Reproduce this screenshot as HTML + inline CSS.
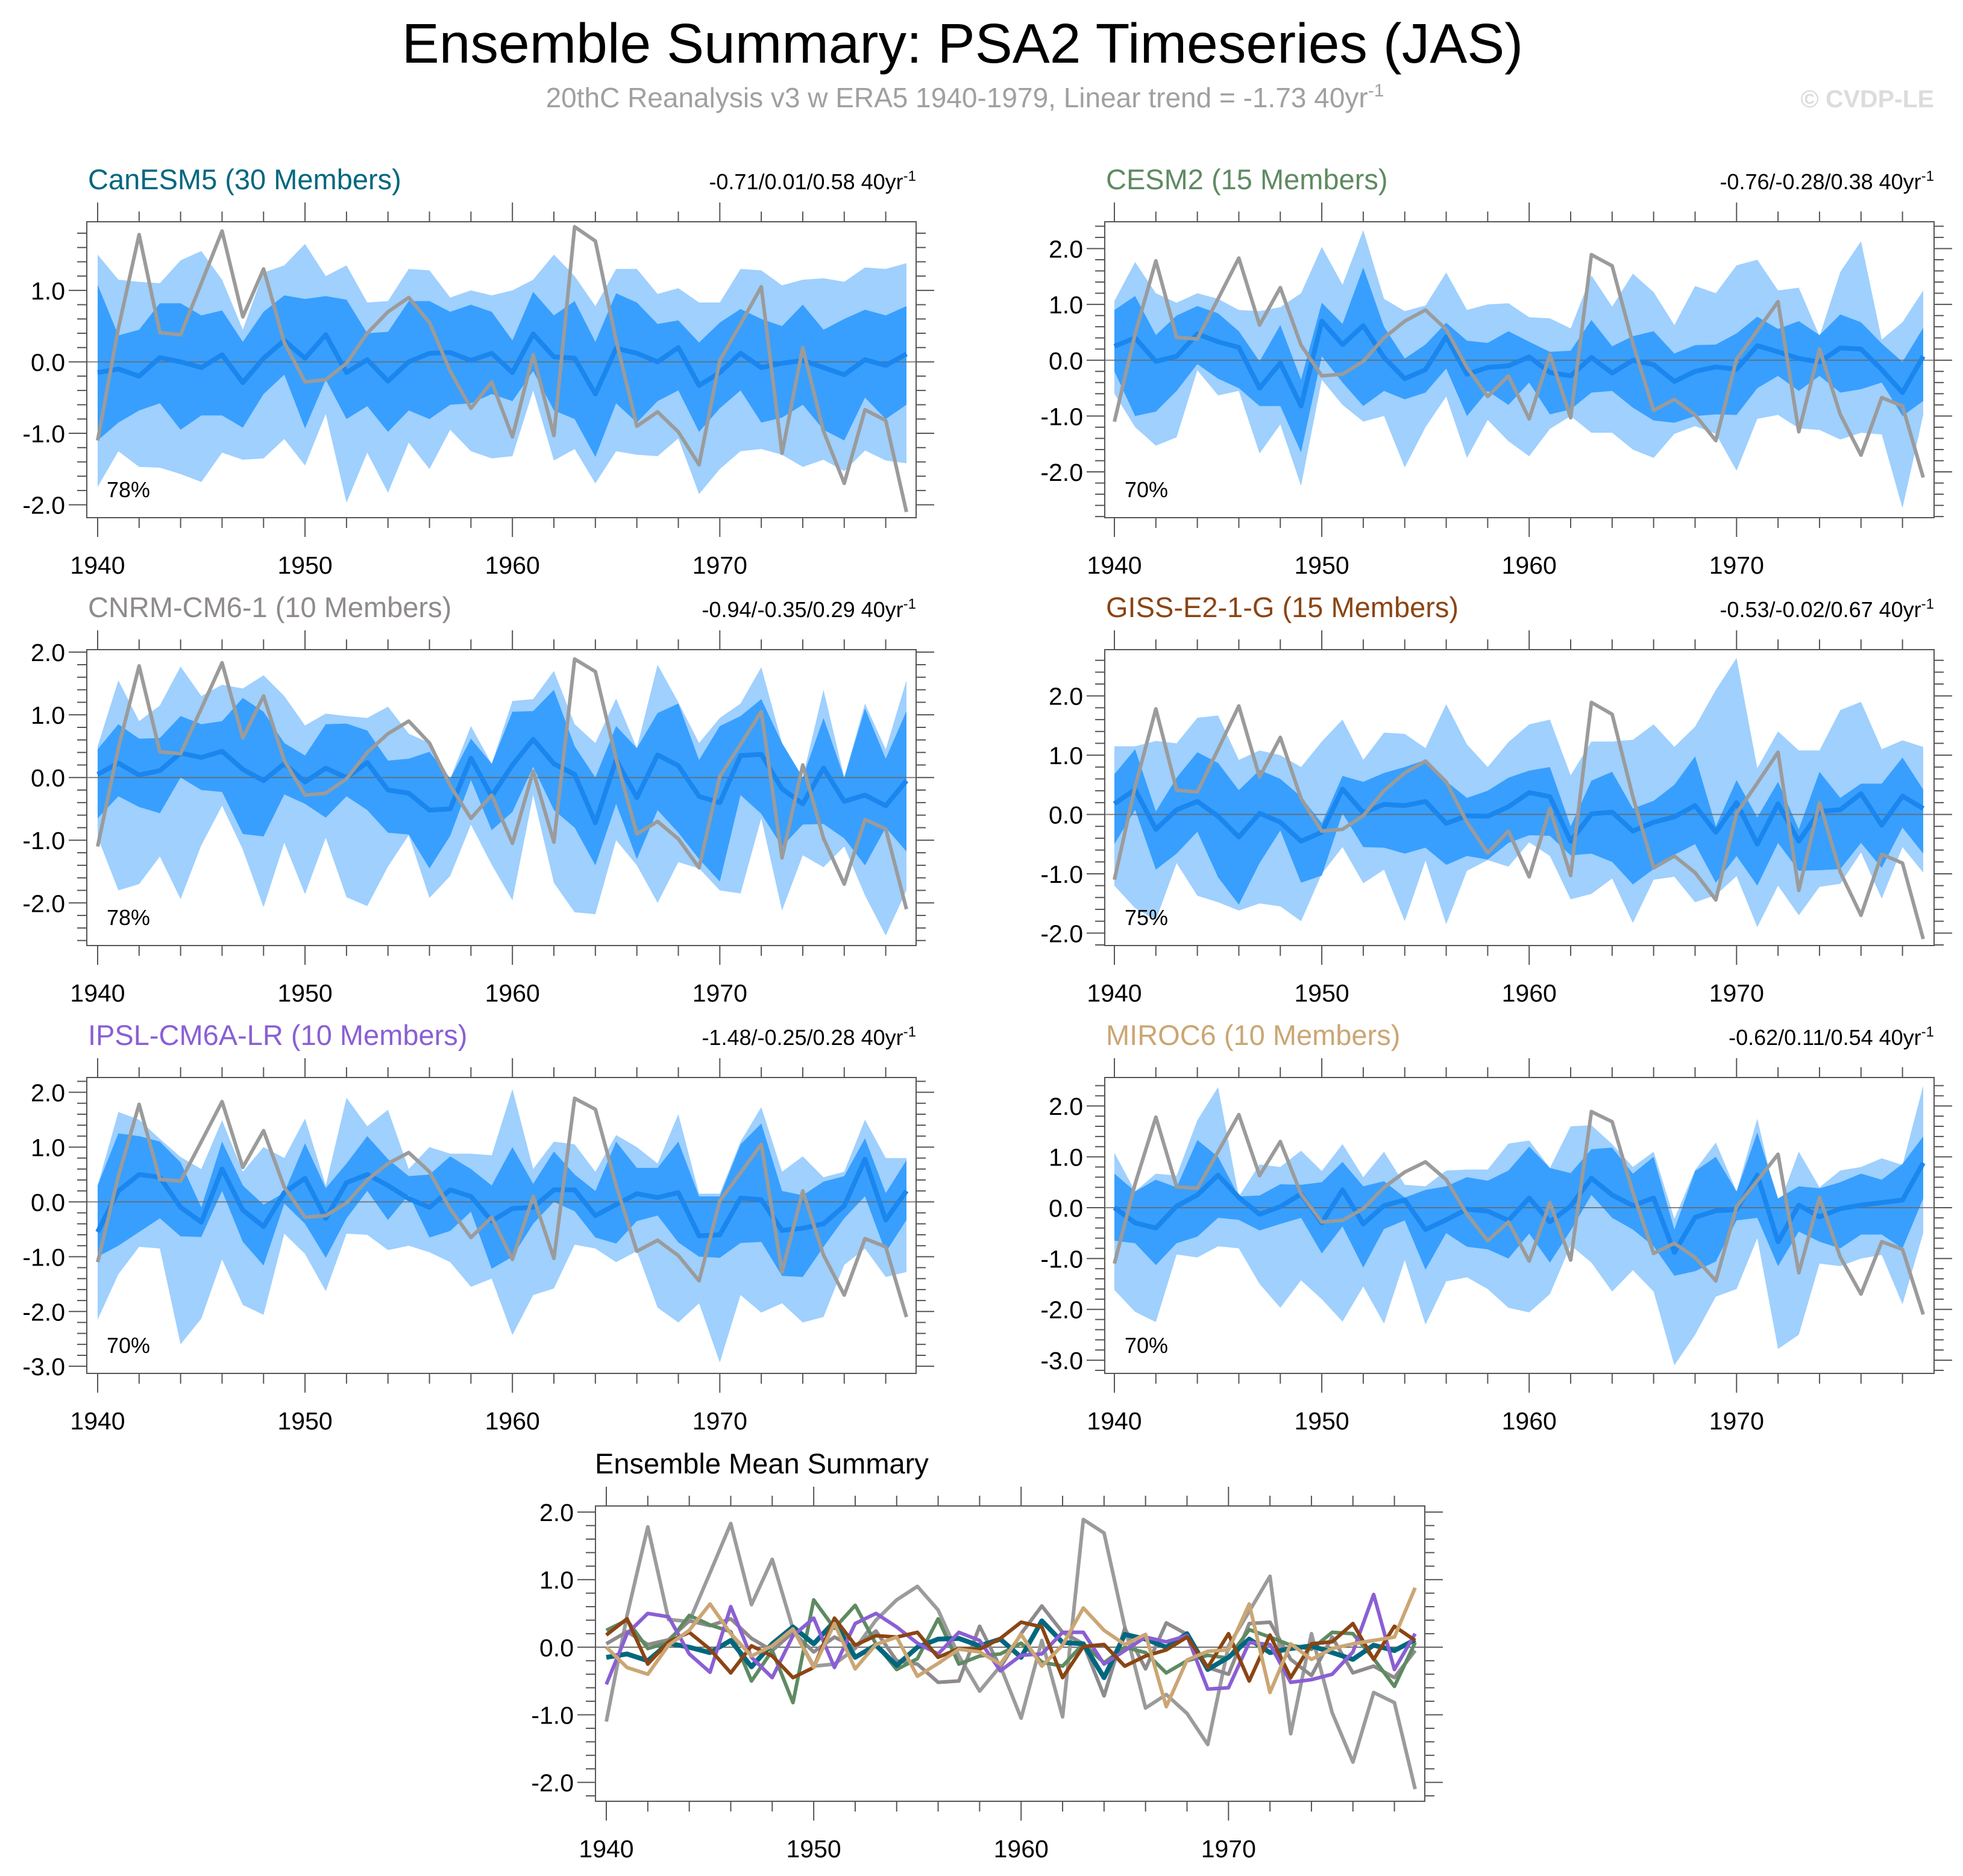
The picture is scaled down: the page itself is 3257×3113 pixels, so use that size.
<!DOCTYPE html>
<html><head><meta charset="utf-8"><style>
html,body{margin:0;padding:0;background:#fff;}
svg{display:block;font-family:"Liberation Sans",Arial,sans-serif;}
</style></head><body>
<svg id="chart" width="3257" height="3113" viewBox="0 0 3257 3113" xmlns="http://www.w3.org/2000/svg">
<text x="1597" y="104" font-size="93" text-anchor="middle" fill="#000">Ensemble Summary: PSA2 Timeseries (JAS)</text>
<text x="1601" y="178" font-size="46" text-anchor="middle" fill="#a0a0a0">20thC Reanalysis v3 w ERA5 1940-1979, Linear trend = -1.73 40yr<tspan font-size="30" dy="-18">-1</tspan></text>
<text x="3209" y="178" font-size="41" font-weight="bold" text-anchor="end" fill="#dcdcdc">© CVDP-LE</text>
<g id="panels"></g>
</svg>
<script>
const years = [];
for (let y = 1940; y <= 1979; y++) years.push(y);
const obs = [-1.10,0.47,1.78,0.41,0.38,1.10,1.83,0.63,1.30,0.27,-0.28,-0.25,-0.02,0.40,0.70,0.90,0.55,-0.13,-0.65,-0.28,-1.05,0.10,-1.03,1.89,1.69,0.30,-0.90,-0.70,-0.98,-1.44,0.02,0.53,1.05,-1.28,0.20,-0.97,-1.70,-0.67,-0.82,-2.10];

const canMean = [-0.15,-0.10,-0.20,0.06,0.00,-0.08,0.10,-0.29,0.05,0.30,0.05,0.38,-0.15,0.03,-0.27,0.00,0.12,0.13,0.02,0.12,-0.15,0.39,0.07,0.05,-0.45,0.19,0.12,0.00,0.20,-0.33,-0.15,0.12,-0.08,-0.02,0.02,-0.08,-0.18,0.03,-0.05,0.11];
const canOU = [1.50,1.15,1.12,1.10,1.42,1.55,1.15,0.45,1.25,1.35,1.65,1.20,1.35,0.83,0.85,1.30,1.28,0.90,1.00,0.93,1.00,1.15,1.50,1.20,0.78,1.30,1.30,0.95,1.03,0.83,0.83,1.30,1.28,1.07,1.15,1.17,1.12,1.32,1.30,1.38];
const canIU = [1.08,0.37,0.45,0.82,0.82,0.65,0.72,0.28,0.70,0.93,0.88,0.92,0.87,0.40,0.42,0.85,0.85,0.70,0.80,0.70,0.30,0.98,0.65,0.85,0.28,0.96,0.83,0.53,0.58,0.27,0.55,0.74,0.60,0.50,0.80,0.45,0.60,0.73,0.65,0.78];
const canIL = [-1.10,-0.85,-0.68,-0.58,-0.95,-0.75,-0.75,-0.92,-0.45,-0.18,-0.93,-0.25,-0.80,-0.62,-0.98,-0.68,-0.80,-0.60,-0.58,-0.45,-0.55,-0.13,-0.68,-0.80,-1.33,-0.58,-0.85,-0.55,-0.40,-0.98,-0.65,-0.40,-0.85,-0.78,-0.60,-0.95,-1.10,-0.50,-0.80,-0.60];
const canOL = [-1.75,-1.25,-1.47,-1.48,-1.57,-1.68,-1.27,-1.37,-1.35,-1.08,-1.45,-0.73,-1.97,-1.27,-1.83,-1.13,-1.50,-0.95,-1.25,-1.35,-1.32,-0.40,-1.38,-1.22,-1.70,-1.25,-1.30,-1.32,-1.07,-1.85,-1.50,-1.25,-1.22,-1.30,-1.47,-1.37,-1.53,-1.24,-1.38,-1.42];

const cesmMean = [0.25,0.40,-0.02,0.07,0.47,0.33,0.23,-0.50,-0.05,-0.82,0.70,0.28,0.62,0.05,-0.33,-0.17,0.42,-0.25,-0.13,-0.10,0.06,-0.22,-0.28,0.05,-0.23,0.00,-0.08,-0.38,-0.20,-0.12,-0.16,0.26,0.15,0.03,-0.03,0.22,0.20,-0.17,-0.58,0.07];
const cesmOU = [1.06,1.76,1.20,1.03,1.20,1.10,0.90,0.88,0.95,1.20,2.03,1.35,2.33,1.10,0.88,0.98,1.57,0.90,1.00,1.02,0.77,0.75,0.57,1.52,0.96,1.55,1.22,0.63,1.33,1.20,1.70,1.80,1.25,1.30,0.43,1.58,2.13,0.37,0.68,1.25];
const cesmIU = [0.90,1.15,0.45,0.80,0.97,0.84,0.52,-0.02,0.63,-0.35,1.03,0.65,1.66,0.60,0.03,0.28,0.67,0.35,0.31,0.52,0.33,0.15,0.17,0.72,0.25,0.43,0.52,0.12,0.27,0.28,0.48,0.78,0.56,0.70,0.45,0.82,0.68,0.30,-0.03,0.58];
const cesmIL = [-0.20,-1.00,-0.92,-0.55,-0.07,-0.33,-0.50,-0.82,-0.82,-1.65,0.07,-0.40,-0.82,-0.55,-0.70,-0.58,-0.15,-1.00,-0.55,-0.80,-0.40,-0.97,-0.88,-0.58,-0.55,-0.85,-1.08,-1.12,-1.00,-0.97,-0.98,-0.50,-0.28,-0.55,-0.28,-0.58,-0.52,-0.40,-1.00,-0.73];
const cesmOL = [-0.60,-1.20,-1.53,-1.38,-0.18,-0.63,-0.55,-1.67,-1.15,-2.25,-0.35,-0.80,-1.10,-1.00,-1.92,-1.20,-0.65,-1.75,-1.07,-1.45,-1.72,-1.23,-1.00,-1.30,-1.30,-1.60,-1.75,-1.32,-1.18,-1.32,-1.98,-1.05,-0.98,-1.22,-1.25,-1.42,-1.30,-1.33,-2.65,-0.98];

const cnrmMean = [0.05,0.23,0.04,0.11,0.39,0.32,0.42,0.13,-0.05,0.22,-0.07,0.15,0.00,0.24,-0.20,-0.25,-0.52,-0.50,0.31,-0.30,0.20,0.61,0.22,0.05,-0.72,0.28,-0.32,0.36,0.19,-0.30,-0.40,0.35,0.37,-0.18,-0.42,0.15,-0.38,-0.28,-0.45,-0.05];
const cnrmOU = [0.50,1.55,0.90,1.15,1.77,1.30,1.48,1.42,1.63,1.30,0.83,1.02,0.98,0.95,1.13,0.70,0.55,-0.02,0.82,0.22,1.22,1.25,1.70,0.85,0.55,1.26,0.47,1.80,1.20,0.55,0.95,1.18,1.76,0.55,0.00,1.40,0.00,1.18,0.45,1.55];
const cnrmIU = [0.45,0.85,0.62,0.63,0.98,0.85,0.90,1.27,1.05,0.55,0.35,0.85,0.86,0.75,0.27,0.30,0.41,-0.02,0.62,0.22,1.05,1.06,1.40,0.50,0.00,0.82,0.47,1.03,1.18,0.28,0.82,0.98,1.25,0.55,0.00,0.95,0.00,1.10,0.30,1.06];
const cnrmIL = [-0.65,-0.30,-0.47,-0.57,0.00,-0.20,-0.23,-0.90,-0.94,-0.27,-0.42,-0.64,-0.30,-0.52,-0.88,-0.91,-1.45,-0.93,-0.04,-0.84,-0.55,0.17,-0.52,-0.80,-1.40,-0.42,-1.30,-0.52,-0.88,-1.30,-1.66,-0.28,-0.58,-1.10,-0.75,-0.74,-0.97,-1.40,-0.80,-1.18];
const cnrmOL = [-0.95,-1.80,-1.70,-1.26,-1.94,-1.08,-0.45,-1.15,-2.07,-1.04,-1.86,-0.96,-1.91,-2.05,-1.42,-0.92,-1.92,-1.57,-0.75,-1.39,-1.96,-0.28,-1.68,-2.15,-2.18,-1.00,-1.40,-2.00,-1.35,-1.45,-1.80,-1.85,-0.65,-2.12,-1.24,-1.43,-1.10,-1.88,-2.52,-1.80];

const gissMean = [0.18,0.42,-0.25,0.08,0.22,-0.03,-0.38,0.02,-0.13,-0.45,-0.30,0.43,0.03,0.17,0.15,0.22,-0.15,-0.02,-0.03,0.13,0.37,0.30,-0.45,0.01,0.04,-0.28,-0.13,-0.04,0.15,-0.30,0.20,-0.50,0.18,-0.45,0.05,0.08,0.35,-0.18,0.31,0.10];
const gissOU = [1.15,1.15,1.24,1.20,1.63,1.67,0.92,1.08,1.00,0.80,1.23,1.60,0.92,1.38,1.36,1.12,1.86,1.18,0.80,1.22,1.52,1.60,0.66,1.23,1.23,1.26,1.52,1.14,1.48,2.10,2.64,0.78,1.40,1.08,1.08,1.76,1.90,1.10,1.25,1.14];
const gissIU = [0.68,1.10,0.05,0.62,1.05,0.87,0.41,0.75,0.60,0.30,-0.15,0.65,0.55,0.70,0.80,0.92,0.56,0.28,0.40,0.62,0.74,0.80,-0.20,0.57,0.72,0.10,0.23,0.50,0.98,-0.20,0.58,-0.05,0.55,-0.25,0.72,0.28,0.52,0.52,0.96,0.42];
const gissIL = [-0.50,0.08,-0.93,-0.66,-0.29,-1.06,-1.52,-0.82,-0.27,-1.15,-1.03,0.02,-0.55,-0.56,-0.66,-0.56,-0.85,-0.70,-0.76,-0.48,-0.35,-0.36,-0.69,-0.66,-0.80,-1.18,-0.92,-0.68,-0.50,-1.15,-0.70,-1.20,-0.48,-0.95,-0.94,-0.92,-0.48,-0.90,-0.22,-0.66];
const gissOL = [-1.20,-1.58,-1.78,-0.82,-1.37,-1.48,-1.62,-1.50,-1.55,-1.80,-1.00,-0.55,-1.16,-0.93,-1.80,-0.78,-1.85,-0.95,-0.77,-0.88,-0.47,-0.70,-1.43,-1.34,-1.08,-1.83,-1.10,-1.05,-1.48,-1.36,-1.04,-1.90,-1.20,-1.70,-1.22,-1.17,-0.64,-1.42,-0.55,-0.98];

const ipslMean = [-0.55,0.20,0.50,0.45,-0.10,-0.37,0.60,-0.15,-0.45,0.17,0.43,-0.30,0.35,0.50,0.30,0.06,-0.10,0.22,0.10,-0.35,-0.12,-0.10,0.22,0.22,-0.25,-0.05,0.15,0.08,0.17,-0.62,-0.60,0.07,0.04,-0.52,-0.48,-0.40,-0.07,0.78,-0.33,0.20];
const ipslOU = [0.30,1.64,1.50,1.15,0.82,0.60,1.49,0.55,1.00,0.80,1.52,0.30,1.90,1.38,1.68,0.60,1.00,0.88,0.88,0.85,2.06,0.60,1.10,1.05,0.55,1.22,1.00,0.70,1.60,0.15,0.15,1.10,1.73,0.55,0.83,0.45,0.55,1.50,0.80,0.80];
const ipslIU = [0.30,1.25,1.20,1.10,0.72,-0.10,1.10,0.30,-0.05,0.17,1.07,0.25,0.70,1.20,0.78,0.47,0.50,0.83,0.60,0.30,1.00,0.33,0.92,0.50,0.20,1.10,0.62,0.62,1.10,0.10,0.10,1.05,1.43,0.20,0.12,0.37,0.47,1.16,0.16,0.76];
const ipslIL = [-1.00,-0.80,-0.55,-0.30,-0.63,-0.64,0.20,-0.73,-1.16,-0.03,-0.40,-1.02,-0.30,0.20,-0.33,0.13,-0.65,-0.53,-0.18,-1.22,-1.00,-0.40,0.00,-0.17,-0.65,-0.76,-0.35,-0.25,-0.74,-1.00,-1.02,-0.75,-0.73,-1.35,-1.37,-0.82,-0.30,0.10,-0.92,-0.33];
const ipslOL = [-2.15,-1.32,-0.82,-0.85,-2.60,-2.13,-1.05,-1.88,-2.06,-0.58,-0.95,-1.63,-0.58,-0.60,-0.88,-0.80,-0.92,-1.10,-1.55,-1.40,-2.43,-1.70,-1.58,-0.78,-0.85,-1.10,-0.90,-1.93,-2.20,-1.85,-2.93,-1.70,-2.02,-1.85,-2.20,-2.10,-1.15,-0.85,-1.37,-1.28];

const mirocMean = [0.00,-0.30,-0.40,0.03,0.25,0.64,0.20,-0.13,0.02,0.27,-0.30,0.35,-0.32,0.04,0.15,-0.43,-0.24,-0.03,-0.07,-0.25,0.19,-0.28,0.03,0.58,0.25,0.04,0.19,-0.88,-0.19,-0.06,-0.04,0.64,-0.67,0.05,-0.18,-0.02,0.05,0.10,0.15,0.88];
const mirocOU = [1.08,0.32,0.67,0.63,1.72,2.37,0.22,0.85,0.80,1.12,0.72,1.25,0.60,1.10,0.45,0.42,0.73,0.75,0.75,1.26,1.32,0.78,1.60,1.62,1.25,0.80,1.10,-0.22,0.74,1.28,0.32,1.75,0.00,1.10,0.40,0.73,0.80,0.97,0.84,2.40];
const mirocIU = [0.67,0.32,0.55,0.40,1.33,1.00,0.22,0.24,0.46,0.45,0.50,0.90,0.42,0.52,0.20,0.35,0.42,0.60,0.53,0.73,1.20,0.78,0.68,1.15,1.18,0.67,1.00,-0.43,0.72,1.00,0.32,1.48,0.18,0.42,0.38,0.50,0.67,0.55,0.86,1.40];
const mirocIL = [-0.65,-0.70,-1.13,-0.70,-0.57,-0.20,-0.24,-0.45,-0.32,-0.20,-0.90,-0.37,-1.18,-0.42,-0.25,-1.22,-0.50,-0.77,-0.82,-1.00,-0.51,-1.08,-0.45,0.25,-0.20,-0.43,-0.76,-1.34,-1.25,-1.06,-0.25,-0.20,-1.15,-0.47,-0.67,-0.80,-0.53,-0.53,-0.80,0.18];
const mirocOL = [-1.62,-2.05,-2.25,-0.92,-0.98,-0.76,-0.80,-1.50,-1.97,-1.43,-1.80,-2.24,-1.55,-2.28,-1.03,-2.30,-1.45,-1.37,-1.60,-1.97,-2.06,-1.70,-0.74,-1.08,-1.65,-1.23,-1.65,-3.10,-2.50,-1.75,-1.60,-0.60,-2.78,-2.50,-1.10,-1.15,-1.00,-0.93,-1.90,-0.50];

const modelNames = ["CanESM5 (30 Members)","CESM2 (15 Members)","CNRM-CM6-1 (10 Members)","GISS-E2-1-G (15 Members)","IPSL-CM6A-LR (10 Members)","MIROC6 (10 Members)"];
const trendStats = ["-0.71/0.01/0.58","-0.76/-0.28/0.38","-0.94/-0.35/0.29","-0.53/-0.02/0.67","-1.48/-0.25/0.28","-0.62/0.11/0.54"];
const pctLabels = ["78%","70%","78%","75%","70%","70%"];
const yLimits = [[-2.18,1.96],[-2.82,2.48],[-2.68,2.04],[-2.21,2.78],[-3.13,2.27],[-3.26,2.56]];
const yTickLabels = [[1,0,-1,-2],[2,1,0,-1,-2],[2,1,0,-1,-2],[2,1,0,-1,-2],[2,1,0,-1,-2,-3],[2,1,0,-1,-2,-3]];
const xTickLabels = [1940,1950,1960,1970];
const summaryTicks = [2,1,0,-1,-2];

const means = [canMean,cesmMean,cnrmMean,gissMean,ipslMean,mirocMean];
const outerUp = [canOU,cesmOU,cnrmOU,gissOU,ipslOU,mirocOU];
const innerUp = [canIU,cesmIU,cnrmIU,gissIU,ipslIU,mirocIU];
const innerLo = [canIL,cesmIL,cnrmIL,gissIL,ipslIL,mirocIL];
const outerLo = [canOL,cesmOL,cnrmOL,gissOL,ipslOL,mirocOL];
const modelColors = ["#00677f","#5f8a62","#8f8a8d","#8b4513","#8a5fd4","#cba674"];

const NS = "http://www.w3.org/2000/svg";
const root = document.getElementById("panels");
function mk(tag, attrs, parent) {
  const e = document.createElementNS(NS, tag);
  for (const k in attrs) e.setAttribute(k, attrs[k]);
  parent.appendChild(e);
  return e;
}
const fmt = v => v.toFixed(1);

function axes(g, L, ymin, ymax, ticks, xs, ys) {
  const frame = mk("rect", {x:L.left, y:L.top, width:L.right-L.left, height:L.bottom-L.top, fill:"none", stroke:"#555", "stroke-width":2}, g);
  
  
  for (let y = 1940; y <= 1980; y += 2) {
    const x = xs(y - 1940);
    if (x > L.right) break;
    const major = (y % 10 === 0);
    const len = major ? 32 : 17;
    const t1 = mk("line", {x1:x, x2:x, y1:L.bottom, y2:L.bottom+len, stroke:"#555", "stroke-width":2}, g);
    
    
    const t2 = mk("line", {x1:x, x2:x, y1:L.top, y2:L.top-len, stroke:"#555", "stroke-width":2}, g);
    
    
  }
  xTickLabels.forEach(yr => {
    const t = mk("text", {x:xs(yr-1940), y:L.bottom+93, "font-size":41, "text-anchor":"middle", fill:"#000"}, g);
    t.textContent = yr;
    
    
  });
  const start = Math.ceil(ymin*5-1e-6), end = Math.floor(ymax*5+1e-6);
  for (let k = start; k <= end; k++) {
    const v = k/5, y = ys(v);
    const major = (k % 5 === 0);
    const len = major ? 30 : 16;
    const a = mk("line", {x1:L.left-len, x2:L.left, y1:y, y2:y, stroke:"#555", "stroke-width":2}, g);
    
    
    const b = mk("line", {x1:L.right, x2:L.right+len, y1:y, y2:y, stroke:"#555", "stroke-width":2}, g);
    
    
  }
  ticks.forEach(v => {
    const t = mk("text", {x:L.left-36, y:ys(v)+15, "font-size":41, "text-anchor":"end", fill:"#000"}, g);
    t.textContent = fmt(v);
    
    
  });
}

function polyPoints(up, lo, xs, ys) {
  const pts = [];
  up.forEach((v,i) => pts.push(xs(i)+","+ys(v)));
  for (let i = lo.length-1; i >= 0; i--) pts.push(xs(i)+","+ys(lo[i]));
  return pts.join(" ");
}
function linePoints(arr, xs, ys) { return arr.map((v,i) => xs(i)+","+ys(v)).join(" "); }

const panelLayouts = [
  {left:144, right:1520, top:368, bottom:859, x0:162, x1:1504},
  {left:1833, right:3209, top:368, bottom:859, x0:1849, x1:3191},
  {left:144, right:1520, top:1078, bottom:1569, x0:162, x1:1504},
  {left:1833, right:3209, top:1078, bottom:1569, x0:1849, x1:3191},
  {left:144, right:1520, top:1788, bottom:2279, x0:162, x1:1504},
  {left:1833, right:3209, top:1788, bottom:2279, x0:1849, x1:3191}
];

for (let p = 0; p < 6; p++) {
  const L = panelLayouts[p];
  const [ymin, ymax] = yLimits[p];
  const g = mk("g", {}, root);
  
  
  const xs = i => L.x0 + (L.x1 - L.x0) * i / (years.length - 1);
  const ys = v => L.top + (ymax - v) / (ymax - ymin) * (L.bottom - L.top);
  const outer = mk("polygon", {points:polyPoints(outerUp[p], outerLo[p], xs, ys), fill:"#9fd0fe"}, g);
  
  
  const inner = mk("polygon", {points:polyPoints(innerUp[p], innerLo[p], xs, ys), fill:"#389ffe"}, g);
  
  
  const zero = mk("line", {x1:L.left, x2:L.right, y1:ys(0), y2:ys(0), stroke:"#666", "stroke-width":2, "stroke-opacity":0.8}, g);
  
  
  const ml = mk("polyline", {points:linePoints(means[p], xs, ys), fill:"none", stroke:"#1a86ee", "stroke-width":8, "stroke-linejoin":"round"}, g);
  
  
  const ol = mk("polyline", {points:linePoints(obs, xs, ys), fill:"none", stroke:"#9b9b9b", "stroke-width":6, "stroke-linejoin":"round"}, g);
  
  
  axes(g, L, ymin, ymax, yTickLabels[p], xs, ys);
  const title = mk("text", {x:L.left+2, y:L.top-54, "font-size":47, fill:modelColors[p]}, g);
  title.textContent = modelNames[p];
  
  
  const st = mk("text", {x:L.right, y:L.top-54, "font-size":36, "text-anchor":"end", fill:"#000"}, g);
  st.textContent = trendStats[p] + " 40yr";
  const sup = mk("tspan", {"font-size":24, dy:-14}, st);
  sup.textContent = "-1";
  
  
  const pc = mk("text", {x:L.left+33, y:L.bottom-34, "font-size":36, fill:"#000"}, g);
  pc.textContent = pctLabels[p];
  
  
}

// summary panel
(function(){
  const L = {left:988, right:2364, top:2499, bottom:2989, x0:1006, x1:2348};
  const ymin = -2.28, ymax = 2.09;
  const g = mk("g", {}, root);
  
  
  const xs = i => L.x0 + (L.x1 - L.x0) * i / (years.length - 1);
  const ys = v => L.top + (ymax - v) / (ymax - ymin) * (L.bottom - L.top);
  const zero = mk("line", {x1:L.left, x2:L.right, y1:ys(0), y2:ys(0), stroke:"#666", "stroke-width":2}, g);
  
  
  const ol = mk("polyline", {points:linePoints(obs, xs, ys), fill:"none", stroke:"#9b9b9b", "stroke-width":6, "stroke-linejoin":"round"}, g);
  
  
  const order = [2,1,0,4,3,5];
  order.forEach(p => {
    const l = mk("polyline", {points:linePoints(means[p], xs, ys), fill:"none", stroke:modelColors[p], "stroke-width": p===0 ? 8 : 6, "stroke-linejoin":"round"}, g);
    
    
  });
  axes(g, L, ymin, ymax, summaryTicks, xs, ys);
  const t = mk("text", {x:987, y:2445, "font-size":47, fill:"#000"}, g);
  t.textContent = "Ensemble Mean Summary";
  
  
})();
</script>
</body></html>
